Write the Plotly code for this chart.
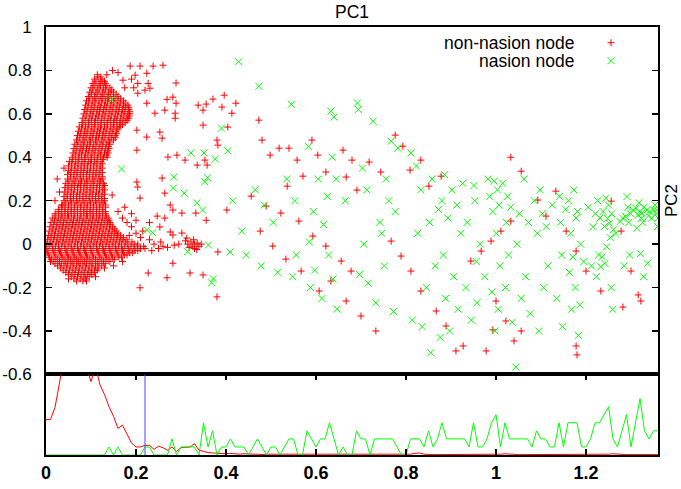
import plotly.graph_objects as go

# ---------------- data ----------------
y_tick_vals = [1, 0.8, 0.6, 0.4, 0.2, 0, -0.2, -0.4, -0.6]
y_tick_text = ["1", "0.8", "0.6", "0.4", "0.2", "0", "-0.2", "-0.4", "-0.6"]
x_tick_vals = [0, 0.2, 0.4, 0.6, 0.8, 1.0, 1.2]
x_tick_text = ["0", "0.2", "0.4", "0.6", "0.8", "1", "1.2"]

# dense core of non-nasion nodes: rows of (PC2, [PC1 values])
core_rows = [
    (-0.17, [0.068, 0.082]),
    (-0.16, [0.062, 0.076, 0.088]),
    (-0.15, [0.056, 0.070, 0.084, 0.096]),
    (-0.14, [0.050, 0.064, 0.078, 0.092, 0.102]),
    (-0.13, [0.044, 0.058, 0.072, 0.086, 0.100, 0.108]),
    (-0.12, [0.038, 0.052, 0.066, 0.080, 0.094, 0.108, 0.114]),
    (-0.11, [0.032, 0.046, 0.060, 0.074, 0.088, 0.102, 0.116]),
    (-0.10, [0.026, 0.040, 0.054, 0.068, 0.082, 0.096, 0.110, 0.124]),
    (-0.09, [0.020, 0.034, 0.048, 0.062, 0.076, 0.090, 0.104, 0.118, 0.132]),
    (-0.08, [0.016, 0.030, 0.044, 0.058, 0.072, 0.086, 0.100, 0.114, 0.128, 0.142]),
    (-0.07, [0.012, 0.026, 0.040, 0.054, 0.068, 0.082, 0.096, 0.110, 0.124, 0.138, 0.152]),
    (-0.06, [0.008, 0.022, 0.036, 0.050, 0.064, 0.078, 0.092, 0.106, 0.120, 0.134, 0.148, 0.162, 0.168]),
    (-0.05, [0.006, 0.020, 0.034, 0.048, 0.062, 0.076, 0.090, 0.104, 0.118, 0.132, 0.146, 0.160, 0.174, 0.180]),
    (-0.04, [0.004, 0.018, 0.032, 0.046, 0.060, 0.074, 0.088, 0.102, 0.116, 0.130, 0.144, 0.158, 0.172, 0.186, 0.192]),
    (-0.03, [0.002, 0.016, 0.030, 0.044, 0.058, 0.072, 0.086, 0.100, 0.114, 0.128, 0.142, 0.156, 0.170, 0.184, 0.198, 0.204]),
    (-0.02, [0.000, 0.014, 0.028, 0.042, 0.056, 0.070, 0.084, 0.098, 0.112, 0.126, 0.140, 0.154, 0.168, 0.182, 0.196, 0.210]),
    (-0.01, [0.007, 0.021, 0.035, 0.049, 0.063, 0.077, 0.091, 0.105, 0.119, 0.133, 0.147, 0.161, 0.175, 0.189, 0.203, 0.217]),
    (0.00, [0.000, 0.014, 0.028, 0.042, 0.056, 0.070, 0.084, 0.098, 0.112, 0.126, 0.140, 0.154, 0.168, 0.182, 0.196, 0.204]),
    (0.01, [0.009, 0.023, 0.037, 0.051, 0.065, 0.079, 0.093, 0.107, 0.121, 0.135, 0.149, 0.163, 0.177, 0.191]),
    (0.02, [0.003, 0.017, 0.031, 0.045, 0.059, 0.073, 0.087, 0.101, 0.115, 0.129, 0.143, 0.157, 0.171, 0.180]),
    (0.03, [0.011, 0.025, 0.039, 0.053, 0.067, 0.081, 0.095, 0.109, 0.123, 0.137, 0.151, 0.165, 0.172]),
    (0.04, [0.005, 0.019, 0.033, 0.047, 0.061, 0.075, 0.089, 0.103, 0.117, 0.131, 0.145, 0.159, 0.166]),
    (0.05, [0.013, 0.027, 0.041, 0.055, 0.069, 0.083, 0.097, 0.111, 0.125, 0.139, 0.153, 0.160]),
    (0.06, [0.007, 0.021, 0.035, 0.049, 0.063, 0.077, 0.091, 0.105, 0.119, 0.133, 0.147, 0.156]),
    (0.07, [0.015, 0.029, 0.043, 0.057, 0.071, 0.085, 0.099, 0.113, 0.127, 0.141, 0.152]),
    (0.08, [0.009, 0.023, 0.037, 0.051, 0.065, 0.079, 0.093, 0.107, 0.121, 0.135, 0.148]),
    (0.09, [0.017, 0.031, 0.045, 0.059, 0.073, 0.087, 0.101, 0.115, 0.129, 0.143]),
    (0.10, [0.011, 0.025, 0.039, 0.053, 0.067, 0.081, 0.095, 0.109, 0.123, 0.137, 0.142]),
    (0.11, [0.019, 0.033, 0.047, 0.061, 0.075, 0.089, 0.103, 0.117, 0.131, 0.140]),
    (0.12, [0.014, 0.028, 0.042, 0.056, 0.070, 0.084, 0.098, 0.112, 0.126, 0.138]),
    (0.13, [0.022, 0.036, 0.050, 0.064, 0.078, 0.092, 0.106, 0.120, 0.134]),
    (0.14, [0.020, 0.034, 0.048, 0.062, 0.076, 0.090, 0.104, 0.118, 0.132]),
    (0.15, [0.028, 0.042, 0.056, 0.070, 0.084, 0.098, 0.112, 0.126, 0.132]),
    (0.16, [0.028, 0.042, 0.056, 0.070, 0.084, 0.098, 0.112, 0.126]),
    (0.17, [0.035, 0.049, 0.063, 0.077, 0.091, 0.105, 0.119, 0.132]),
    (0.18, [0.036, 0.050, 0.064, 0.078, 0.092, 0.106, 0.120, 0.132]),
    (0.19, [0.043, 0.057, 0.071, 0.085, 0.099, 0.113, 0.127]),
    (0.20, [0.040, 0.054, 0.068, 0.082, 0.096, 0.110, 0.124, 0.130]),
    (0.21, [0.047, 0.061, 0.075, 0.089, 0.103, 0.117, 0.130]),
    (0.22, [0.040, 0.054, 0.068, 0.082, 0.096, 0.110, 0.124]),
    (0.23, [0.047, 0.061, 0.075, 0.089, 0.103, 0.117, 0.130]),
    (0.24, [0.042, 0.056, 0.070, 0.084, 0.098, 0.112, 0.126]),
    (0.25, [0.049, 0.063, 0.077, 0.091, 0.105, 0.119, 0.130]),
    (0.26, [0.042, 0.056, 0.070, 0.084, 0.098, 0.112, 0.126]),
    (0.27, [0.049, 0.063, 0.077, 0.091, 0.105, 0.119, 0.130]),
    (0.28, [0.044, 0.058, 0.072, 0.086, 0.100, 0.114, 0.128]),
    (0.29, [0.051, 0.065, 0.079, 0.093, 0.107, 0.121]),
    (0.30, [0.048, 0.062, 0.076, 0.090, 0.104, 0.118, 0.125]),
    (0.31, [0.055, 0.069, 0.083, 0.097, 0.111, 0.125]),
    (0.32, [0.048, 0.062, 0.076, 0.090, 0.104, 0.118]),
    (0.33, [0.055, 0.069, 0.083, 0.097, 0.111, 0.125]),
    (0.34, [0.050, 0.064, 0.078, 0.092, 0.106, 0.120]),
    (0.35, [0.057, 0.071, 0.085, 0.099, 0.113, 0.125]),
    (0.36, [0.050, 0.064, 0.078, 0.092, 0.106, 0.120]),
    (0.37, [0.057, 0.071, 0.085, 0.099, 0.113, 0.125]),
    (0.38, [0.052, 0.066, 0.080, 0.094, 0.108, 0.122]),
    (0.39, [0.059, 0.073, 0.087, 0.101, 0.115, 0.126]),
    (0.40, [0.058, 0.072, 0.086, 0.100, 0.114, 0.128, 0.136]),
    (0.41, [0.065, 0.079, 0.093, 0.107, 0.121, 0.135]),
    (0.42, [0.060, 0.074, 0.088, 0.102, 0.116, 0.130, 0.138]),
    (0.43, [0.067, 0.081, 0.095, 0.109, 0.123, 0.137]),
    (0.44, [0.062, 0.076, 0.090, 0.104, 0.118, 0.132, 0.140]),
    (0.45, [0.069, 0.083, 0.097, 0.111, 0.125, 0.139]),
    (0.46, [0.064, 0.078, 0.092, 0.106, 0.120, 0.134, 0.142]),
    (0.47, [0.071, 0.085, 0.099, 0.113, 0.127, 0.141]),
    (0.48, [0.068, 0.082, 0.096, 0.110, 0.124, 0.138, 0.150]),
    (0.49, [0.075, 0.089, 0.103, 0.117, 0.131, 0.145, 0.154]),
    (0.50, [0.070, 0.084, 0.098, 0.112, 0.126, 0.140, 0.154]),
    (0.51, [0.077, 0.091, 0.105, 0.119, 0.133, 0.147, 0.157]),
    (0.52, [0.072, 0.086, 0.100, 0.114, 0.128, 0.142, 0.156]),
    (0.53, [0.079, 0.093, 0.107, 0.121, 0.135, 0.149, 0.160]),
    (0.54, [0.074, 0.088, 0.102, 0.116, 0.130, 0.144, 0.158, 0.164]),
    (0.55, [0.081, 0.095, 0.109, 0.123, 0.137, 0.151, 0.165, 0.170]),
    (0.56, [0.080, 0.094, 0.108, 0.122, 0.136, 0.150, 0.164, 0.176]),
    (0.57, [0.087, 0.101, 0.115, 0.129, 0.143, 0.157, 0.171, 0.180]),
    (0.58, [0.082, 0.096, 0.110, 0.124, 0.138, 0.152, 0.166, 0.180, 0.184]),
    (0.59, [0.089, 0.103, 0.117, 0.131, 0.145, 0.159, 0.173, 0.185]),
    (0.60, [0.084, 0.098, 0.112, 0.126, 0.140, 0.154, 0.168, 0.182, 0.186]),
    (0.61, [0.091, 0.105, 0.119, 0.133, 0.147, 0.161, 0.175, 0.186]),
    (0.62, [0.086, 0.100, 0.114, 0.128, 0.142, 0.156, 0.170, 0.184]),
    (0.63, [0.093, 0.107, 0.121, 0.135, 0.149, 0.163, 0.177, 0.184]),
    (0.64, [0.088, 0.102, 0.116, 0.130, 0.144, 0.158, 0.172, 0.182]),
    (0.65, [0.095, 0.109, 0.123, 0.137, 0.151, 0.165, 0.176]),
    (0.66, [0.090, 0.104, 0.118, 0.132, 0.146, 0.160, 0.172]),
    (0.67, [0.097, 0.111, 0.125, 0.139, 0.153, 0.166]),
    (0.68, [0.094, 0.108, 0.122, 0.136, 0.150, 0.160]),
    (0.69, [0.101, 0.115, 0.129, 0.143, 0.156]),
    (0.70, [0.097, 0.111, 0.125, 0.139, 0.150]),
    (0.71, [0.104, 0.118, 0.132, 0.146]),
    (0.72, [0.100, 0.114, 0.128, 0.142]),
    (0.73, [0.107, 0.121, 0.135]),
    (0.74, [0.104, 0.118, 0.132]),
    (0.75, [0.111, 0.125, 0.130]),
    (0.76, [0.108, 0.122]),
    (0.77, [0.115, 0.122]),
    (0.78, [0.114]),
]

# scattered non-nasion nodes (PC1, PC2)
red_sparse = [
    (0.187, 0.82), (0.209, 0.82), (0.238, 0.82), (0.26, 0.824), (0.224, 0.787), (0.227, 0.74),
    (0.289, 0.742), (0.231, 0.718), (0.269, 0.667), (0.282, 0.677), (0.289, 0.649), (0.287, 0.603),
    (0.287, 0.58), (0.264, 0.617), (0.242, 0.603), (0.224, 0.649), (0.22, 0.709), (0.204, 0.695),
    (0.204, 0.74), (0.198, 0.778), (0.171, 0.755), (0.16, 0.79), (0.148, 0.8), (0.135, 0.78),
    (0.19, 0.76), (0.195, 0.72), (0.175, 0.72),
    (0.253, 0.516), (0.258, 0.488), (0.224, 0.493), (0.202, 0.525), (0.202, 0.433), (0.271, 0.401),
    (0.291, 0.41), (0.309, 0.387), (0.336, 0.364), (0.353, 0.387), (0.358, 0.364), (0.338, 0.64),
    (0.349, 0.617), (0.349, 0.548), (0.38, 0.479), (0.382, 0.456), (0.396, 0.686), (0.404, 0.539),
    (0.402, 0.157), (0.258, 0.304), (0.202, 0.286), (0.204, 0.263), (0.147, 0.226), (0.209, 0.212),
    (0.264, 0.235), (0.276, 0.18), (0.302, 0.143), (0.282, 0.157), (0.333, 0.143), (0.356, 0.11),
    (0.264, 0.12), (0.247, 0.129), (0.253, 0.079), (0.276, 0.056), (0.282, 0.042), (0.302, 0.051),
    (0.313, 0.028), (0.282, -0.088), (0.227, -0.133), (0.269, -0.155), (0.32, -0.133), (0.349, -0.142),
    (0.209, -0.201), (0.38, -0.243), (0.382, -0.036),
    (0.22, -0.02), (0.235, -0.03), (0.25, -0.02), (0.26, -0.01), (0.27, -0.015), (0.285, -0.005),
    (0.295, 0.0), (0.24, 0.0), (0.255, 0.01), (0.23, 0.02), (0.21, 0.03), (0.2, 0.05), (0.215, 0.06),
    (0.19, 0.08), (0.18, 0.1), (0.17, 0.12), (0.2, 0.11), (0.23, 0.1), (0.185, 0.04), (0.16, 0.15),
    (0.175, 0.17), (0.19, 0.14),
    (0.315, 0.0), (0.322, 0.01), (0.33, 0.0), (0.336, 0.005), (0.325, -0.01), (0.318, -0.015),
    (0.33, -0.02), (0.34, -0.01), (0.31, 0.015), (0.328, 0.02), (0.335, -0.025), (0.345, 0.0),
    (0.02, 0.2), (0.03, 0.24), (0.025, 0.3), (0.04, 0.35), (0.035, 0.18), (0.01, -0.08),
    (0.05, -0.16), (0.09, -0.17), (0.11, -0.15), (0.13, -0.11), (0.15, -0.1), (0.17, -0.08),
    (0.356, 0.645), (0.371, 0.668), (0.391, 0.631), (0.413, 0.603), (0.422, 0.649), (0.473, 0.571),
    (0.48, 0.479), (0.498, 0.41), (0.518, 0.442), (0.54, 0.442), (0.558, 0.387), (0.571, 0.313),
    (0.536, 0.267), (0.591, 0.479), (0.604, 0.41), (0.622, 0.332), (0.66, 0.433), (0.68, 0.387),
    (0.667, 0.309), (0.691, 0.249), (0.718, 0.378), (0.744, 0.332), (0.776, 0.502), (0.793, 0.451),
    (0.809, 0.341), (0.833, 0.387), (0.851, 0.267), (0.878, 0.313), (0.456, 0.221), (0.489, 0.175),
    (0.522, 0.143), (0.562, 0.106), (0.593, 0.037), (0.622, -0.009), (0.656, -0.078), (0.633, -0.17),
    (0.678, -0.124), (0.476, 0.06), (0.504, -0.009), (0.533, -0.069), (0.567, -0.124), (0.607, -0.216),
    (0.667, -0.262), (0.7, -0.331), (0.733, -0.4), (0.767, 0.014), (0.789, -0.055), (0.811, -0.124),
    (0.833, -0.216), (0.867, -0.308), (0.889, -0.377), (0.911, -0.492), (0.927, -0.469), (0.944, -0.078),
    (0.967, -0.032), (0.989, 0.014), (1.011, 0.06), (1.033, 0.106), (1.0, -0.262), (1.022, -0.354),
    (1.04, -0.446), (1.056, -0.4), (1.033, 0.4), (1.056, 0.336), (1.093, 0.203), (1.111, 0.129),
    (1.133, 0.244), (1.156, 0.06), (1.178, -0.032), (1.2, -0.124), (1.233, -0.216), (1.256, 0.198),
    (1.278, 0.06), (1.3, -0.124), (1.322, -0.262), (1.178, -0.469), (1.18, -0.51), (1.282, -0.29),
    (0.978, -0.492), (0.993, -0.395), (1.316, -0.234),
]

# nasion nodes (PC1, PC2); their PC1 spread follows the green histogram below
green_pts = [
    (0.146, 0.666), (0.168, 0.346), (0.224, 0.065), (0.237, 0.053), (0.283, 0.258), (0.284, 0.309),
    (0.307, 0.235), (0.315, -0.034), (0.322, 0.42), (0.335, 0.19),
    (0.348, 0.157), (0.351, 0.42), (0.353, 0.287), (0.359, 0.306), (0.361, -0.004),
    (0.368, -0.178), (0.372, -0.16), (0.376, 0.392), (0.39, 0.534), (0.404, 0.43),
    (0.409, -0.036), (0.415, 0.2), (0.428, 0.84), (0.435, 0.06), (0.445, -0.05), (0.465, 0.25),
    (0.473, 0.727), (0.478, -0.1), (0.485, 0.18), (0.505, 0.1), (0.515, -0.13), (0.535, 0.3),
    (0.545, 0.644), (0.548, -0.15), (0.553, 0.2), (0.556, -0.05), (0.583, 0.45), (0.585, 0.01),
    (0.588, -0.2), (0.594, 0.15), (0.597, -0.12), (0.605, 0.3), (0.613, -0.25), (0.617, 0.09),
    (0.625, 0.22), (0.628, -0.05), (0.633, 0.612), (0.636, 0.4), (0.638, -0.16), (0.64, 0.585),
    (0.645, 0.3), (0.647, -0.3), (0.665, 0.2), (0.692, 0.65), (0.694, 0.62), (0.697, -0.14),
    (0.703, 0.35), (0.706, 0.0), (0.713, 0.25), (0.716, -0.18), (0.727, 0.566), (0.733, -0.27),
    (0.742, 0.1), (0.746, 0.05), (0.752, -0.1), (0.756, 0.3), (0.762, 0.2), (0.767, 0.474),
    (0.772, -0.31), (0.776, 0.15), (0.782, 0.442), (0.811, 0.42), (0.814, -0.35), (0.823, 0.36),
    (0.826, 0.05), (0.833, 0.25), (0.836, -0.38), (0.845, -0.2), (0.852, 0.1), (0.855, -0.5),
    (0.858, 0.3), (0.865, -0.1), (0.872, 0.16), (0.876, -0.43), (0.88, 0.2), (0.883, -0.05),
    (0.886, 0.32), (0.888, -0.25), (0.893, 0.12), (0.897, -0.4), (0.902, 0.25), (0.906, -0.15),
    (0.913, 0.18), (0.916, -0.3), (0.922, 0.05), (0.926, 0.28), (0.933, -0.2), (0.936, 0.1),
    (0.945, -0.35), (0.951, 0.27), (0.953, 0.2), (0.956, -0.08), (0.958, -0.27), (0.965, 0.0),
    (0.975, -0.15), (0.982, 0.3), (0.986, 0.22), (0.991, -0.22), (0.993, 0.15), (0.996, 0.29),
    (0.998, -0.4), (1.001, 0.05), (1.003, 0.25), (1.005, -0.3), (1.007, 0.18), (1.009, -0.1),
    (1.015, 0.28), (1.021, -0.2), (1.023, 0.1), (1.026, 0.22), (1.028, -0.05), (1.033, 0.17),
    (1.036, -0.36), (1.044, -0.566), (1.047, 0.0), (1.052, 0.14), (1.056, -0.25), (1.062, 0.3),
    (1.066, -0.15), (1.072, 0.1), (1.076, -0.32), (1.085, 0.2), (1.092, 0.05), (1.095, -0.4),
    (1.098, 0.25), (1.103, 0.14), (1.106, -0.2), (1.112, 0.08), (1.116, -0.1), (1.125, 0.18),
    (1.135, -0.25), (1.141, 0.22), (1.143, 0.1), (1.146, -0.05), (1.148, -0.38), (1.155, 0.16),
    (1.161, 0.2), (1.163, -0.13), (1.166, 0.05), (1.168, -0.3), (1.171, -0.06), (1.173, 0.25),
    (1.176, -0.2), (1.178, 0.12), (1.181, 0.15), (1.183, -0.42), (1.186, -0.28), (1.188, 0.0),
    (1.195, -0.08), (1.205, 0.17), (1.212, -0.1), (1.216, 0.08), (1.221, 0.14), (1.223, -0.15),
    (1.226, 0.2), (1.228, -0.05), (1.231, 0.12), (1.233, -0.104), (1.236, -0.058), (1.238, 0.15),
    (1.241, 0.081), (1.242, -0.089), (1.244, 0.212), (1.246, -0.012), (1.248, 0.119), (1.25, 0.18),
    (1.252, 0.096), (1.254, 0.03), (1.256, -0.2), (1.257, 0.14), (1.259, -0.3), (1.261, 0.066),
    (1.266, 0.05), (1.276, 0.104), (1.282, 0.119), (1.285, -0.1), (1.288, 0.127), (1.291, 0.219),
    (1.293, 0.17), (1.295, 0.1), (1.297, -0.05), (1.299, 0.14), (1.305, 0.157), (1.311, 0.165),
    (1.313, 0.073), (1.316, 0.134), (1.318, 0.19), (1.32, 0.15), (1.321, -0.044), (1.323, 0.119),
    (1.324, 0.142), (1.326, 0.1), (1.328, -0.15), (1.329, 0.17), (1.335, 0.157), (1.337, -0.088),
    (1.339, 0.13), (1.342, 0.15), (1.346, 0.12), (1.35, 0.157), (1.353, 0.18), (1.356, 0.14),
    (1.357, 0.157), (1.359, 0.081), (1.36, 0.12),
]

# lower panel: histograms along PC1, bins of 0.01 starting at 0
hist_bin_width = 0.01
hist_red = [
    4.4, 4.4, 5.9, 9.5, 12, 13, 14, 13.5, 12.5, 11, 9.1, 11, 8.7, 7.5, 6.0, 4.8, 3.3, 3.7, 2.6, 1.5,
    1.0, 1.0, 1.2, 1.2, 0.7, 1.1, 0.9, 0.6, 1.0, 0.45, 0.9, 0.95, 1.0, 1.4, 0.6, 0.45, 0.3, 0.25, 0.2, 0.2,
    0.15, 0.2, 0.15, 0.1, 0.15, 0.1, 0.1, 0.1, 0.05, 0.1, 0.1, 0.05, 0.05, 0.1, 0.05, 0.05, 0.1, 0.05, 0.05, 0.05,
    0.05, 0.1, 0.05, 0.05, 0.05, 0.1, 0.05, 0.05, 0.05, 0.05, 0.1, 0.05, 0.05, 0.05, 0.05, 0.05, 0.1, 0.05, 0.05, 0.05,
    0.05, 0.1, 0.2, 0.25, 0.1, 0.05, 0.05, 0.05, 0.05, 0.05, 0.1, 0.05, 0.05, 0.05, 0.05, 0.05, 0.05, 0.05, 0.1, 0.05,
    0.05, 0.1, 0.15, 0.1, 0.05, 0.05, 0.05, 0.05, 0.05, 0.05, 0.05, 0.05, 0.1, 0.05, 0.05, 0.05, 0.05, 0.05, 0.05, 0.1,
    0.1, 0.05, 0.05, 0.05, 0.05, 0.1, 0.15, 0.1, 0.05, 0.05, 0.05, 0.05, 0.05, 0.05, 0.05, 0.05, 0.05,
]
hist_green = [
    0, 0, 0, 0, 0, 0, 0, 0, 0, 0, 0, 0, 0, 0, 1, 0, 1, 0, 0, 0,
    0, 0, 1, 1, 0, 0, 0, 0, 2, 0, 1, 1, 1, 1, 0, 4, 1, 3, 0, 1,
    1, 2, 1, 1, 1, 0, 1, 2, 1, 0, 1, 1, 0, 1, 2, 2, 0, 0, 3, 2,
    1, 2, 2, 4, 2, 0, 1, 0, 0, 3, 2, 2, 0, 2, 2, 2, 2, 2, 1, 0,
    0, 2, 2, 2, 1, 3, 1, 2, 4, 2, 2, 2, 2, 2, 1, 4, 1, 1, 2, 4,
    5, 1, 4, 2, 2, 2, 2, 2, 1, 3, 2, 2, 1, 1, 4, 1, 4, 4, 4, 1,
    1, 2, 4, 4, 5, 6, 2, 1, 3, 5, 1, 4, 7, 3, 2, 3, 3,
]
threshold_pc1 = 0.22

# ---------------- assemble ----------------
red_x = [x for y, xs in core_rows for x in xs] + [p[0] for p in red_sparse]
red_y = [y for y, xs in core_rows for x in xs] + [p[1] for p in red_sparse]
green_x = [p[0] for p in green_pts]
green_y = [p[1] for p in green_pts]
hist_x = [round(i * hist_bin_width, 4) for i in range(len(hist_green))]

RED = "#ff0000"
GREEN = "#00ff00"
FONT = "Liberation Sans, Arial, sans-serif"

fig = go.Figure()
fig.add_trace(go.Scatter(
    x=red_x, y=red_y, mode="markers", name="non-nasion node",
    marker=dict(symbol="cross-thin", size=5, color=RED, line=dict(color=RED, width=1)),
    xaxis="x", yaxis="y", hoverinfo="skip"))
fig.add_trace(go.Scatter(
    x=green_x, y=green_y, mode="markers", name="nasion node",
    marker=dict(symbol="x-thin", size=7, color=GREEN, line=dict(color=GREEN, width=1)),
    xaxis="x", yaxis="y", hoverinfo="skip"))
fig.add_trace(go.Scatter(
    x=hist_x[:len(hist_red)], y=hist_red, mode="lines",
    line=dict(color=RED, width=1), xaxis="x2", yaxis="y2", hoverinfo="skip"))
fig.add_trace(go.Scatter(
    x=hist_x, y=hist_green, mode="lines",
    line=dict(color=GREEN, width=1), xaxis="x2", yaxis="y2", hoverinfo="skip"))
fig.add_trace(go.Scatter(
    x=[threshold_pc1, threshold_pc1], y=[0, 10], mode="lines",
    line=dict(color="#4444ff", width=1), xaxis="x2", yaxis="y2", hoverinfo="skip"))

W, H = 681, 489
ML, MR, MT, MB = 46, 23, 27, 34
PW, PH = W - ML - MR, H - MT - MB
split = 80.6 / PH

def px_to_paper_x(px):
    return (px - ML) / PW

def py_to_paper_y(py):
    return 1 - (py - MT) / PH

axis_common = dict(showline=True, linecolor="black", linewidth=2, showgrid=False,
                   zeroline=False, automargin=False)

fig.update_layout(
    width=W, height=H,
    margin=dict(l=ML, r=MR, t=MT, b=MB, pad=0, autoexpand=False),
    paper_bgcolor="white", plot_bgcolor="white",
    showlegend=False,
    font=dict(family=FONT, size=16, color="black"),
    xaxis=dict(domain=[0, 1], anchor="y", range=[0, 1.36], mirror=True, ticks="",
               showticklabels=False, **axis_common),
    yaxis=dict(domain=[split, 1], anchor="x", range=[-0.6, 1], tickmode="array",
               tickvals=y_tick_vals, ticktext=y_tick_text, ticks="inside", ticklen=6,
               tickwidth=1.5, tickcolor="black", mirror="ticks", ticklabelstandoff=9,
               tickfont=dict(family=FONT, size=17), **axis_common),
    xaxis2=dict(domain=[0, 1], anchor="y2", range=[0, 1.36], tickmode="array",
                tickvals=x_tick_vals, ticktext=x_tick_text, ticks="inside", ticklen=6,
                tickwidth=1.5, tickcolor="black", mirror="ticks", ticklabelstandoff=0,
                tickfont=dict(family=FONT, size=18, weight="bold"), **axis_common),
    yaxis2=dict(domain=[0, split], anchor="x2", range=[0, 10], ticks="", showticklabels=False,
                mirror=True, **axis_common),
)

ann = []
ann.append(dict(text="PC1", x=0.5, y=py_to_paper_y(12), xref="paper", yref="paper",
                showarrow=False, xanchor="center", yanchor="middle", font=dict(size=17.5)))
ann.append(dict(text="PC2", x=px_to_paper_x(671), y=py_to_paper_y(201), xref="paper", yref="paper",
                showarrow=False, textangle=-90, xanchor="center", yanchor="middle", font=dict(size=17)))
ann.append(dict(text="non-nasion node", x=px_to_paper_x(576), y=py_to_paper_y(42.7), xref="paper",
                yref="paper", showarrow=False, xanchor="right", yanchor="middle", font=dict(size=17.5)))
ann.append(dict(text="nasion node", x=px_to_paper_x(576), y=py_to_paper_y(60.7), xref="paper",
                yref="paper", showarrow=False, xanchor="right", yanchor="middle", font=dict(size=17.5)))
fig.update_layout(annotations=ann)

# legend symbols
sx = px_to_paper_x(611)
dx, dy = 3.5 / PW, 3.5 / PH
y1, y2 = py_to_paper_y(42.7), py_to_paper_y(60.7)
shapes = [
    dict(type="line", xref="paper", yref="paper", x0=sx - dx, x1=sx + dx, y0=y1, y1=y1, line=dict(color=RED, width=1)),
    dict(type="line", xref="paper", yref="paper", x0=sx, x1=sx, y0=y1 - dy, y1=y1 + dy, line=dict(color=RED, width=1)),
    dict(type="line", xref="paper", yref="paper", x0=sx - dx, x1=sx + dx, y0=y2 - dy, y1=y2 + dy, line=dict(color=GREEN, width=1)),
    dict(type="line", xref="paper", yref="paper", x0=sx - dx, x1=sx + dx, y0=y2 + dy, y1=y2 - dy, line=dict(color=GREEN, width=1)),
]
fig.update_layout(shapes=shapes)

fig.write_html("out.html",
               config={"displayModeBar": False, "staticPlot": True},
               post_script="document.body.style.margin='0';document.body.style.padding='0';")
